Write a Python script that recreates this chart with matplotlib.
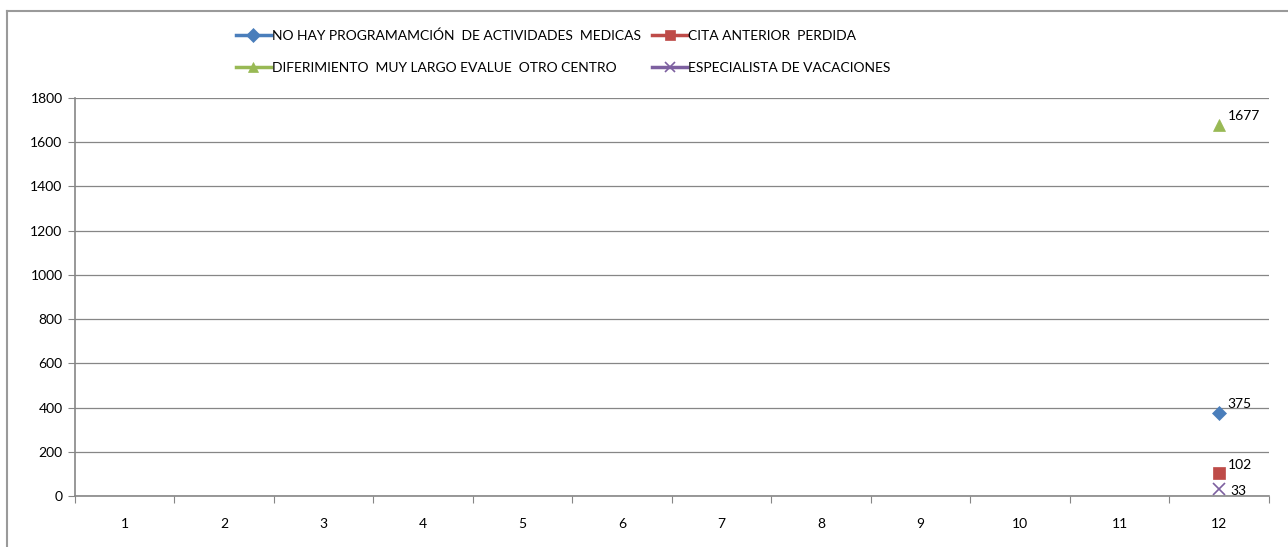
import numpy as np
import matplotlib.pyplot as plt
from matplotlib.lines import Line2D

plt.rcParams['font.family'] = ['Lato', 'DejaVu Sans']

meses = list(range(1, 13))
nan = np.nan
no_hay_prog = [nan] * 11 + [375]
cita_perdida = [nan] * 11 + [102]
diferimiento = [nan] * 11 + [1677]
especialista_vac = [nan] * 11 + [33]

series = [
    ("NO HAY PROGRAMAMCIÓN  DE ACTIVIDADES  MEDICAS", no_hay_prog, '#4A7EBB', 'D', 7),
    ("CITA ANTERIOR  PERDIDA", cita_perdida, '#BE4B48', 's', 8),
    ("DIFERIMIENTO  MUY LARGO EVALUE  OTRO CENTRO", diferimiento, '#98B954', '^', 9),
    ("ESPECIALISTA DE VACACIONES", especialista_vac, '#7D60A0', 'x', 8),
]

fig = plt.figure(figsize=(12.88, 5.47), dpi=100)
ax = fig.add_axes([75/1288, 51/547, (1269-75)/1288, (496-98)/547])

gris = '#868686'
for nombre, vals, col, mk, ms in series:
    ax.plot(meses, vals, color=col, marker=mk, markersize=ms, lw=2.5,
            markeredgewidth=1.2 if mk == 'x' else 0.5, label=nombre)
    for x, v in zip(meses, vals):
        if not np.isnan(v):
            if v > 60:
                ax.annotate(str(v), (x, v), xytext=(6, 2), textcoords='offset points',
                            fontsize=10, ha='left', va='bottom')
            else:
                ax.annotate(str(v), (x, v), xytext=(8, -2), textcoords='offset points',
                            fontsize=10, ha='left', va='center')

ax.set_xlim(0.5, 12.5)
ax.set_ylim(0, 1800)
ax.set_yticks(range(0, 1801, 200))
ax.set_xticks(np.arange(0.5, 12.6, 1))
ax.set_xticklabels([])
ax.set_xticks(meses, minor=True)
ax.set_xticklabels([str(m) for m in meses], minor=True)
ax.tick_params(axis='x', which='minor', length=0, pad=16, labelsize=10)
ax.tick_params(axis='x', which='major', length=5, color=gris, direction='out')
ax.tick_params(axis='y', length=5, color=gris, direction='out', labelsize=10, pad=4)
ax.grid(axis='y', color=gris, lw=0.9)
ax.set_axisbelow(True)
for s in ['top', 'right']:
    ax.spines[s].set_visible(False)
for s in ['left', 'bottom']:
    ax.spines[s].set_color(gris)
    ax.spines[s].set_linewidth(1.2)

# legend: order so rows read like the original
orden = [0, 2, 1, 3]
handles = [Line2D([], [], color=series[i][2], marker=series[i][3], markersize=7, lw=2.5,
                  markeredgewidth=1.2 if series[i][3] == 'x' else 0.5) for i in orden]
labels = [series[i][0] for i in orden]
fig.legend(handles, labels, ncol=2, loc='upper left', bbox_to_anchor=(236/1288, 1 - 29/547),
           frameon=False, fontsize=10, handlelength=2.5, handletextpad=0.1,
           columnspacing=0.8, labelspacing=1.45, borderaxespad=0, borderpad=0)

# chart border
fig.add_artist(Line2D([7/1288, 7/1288], [0, 1 - 11/547], transform=fig.transFigure, color='#9a9a9a', lw=1.5))
fig.add_artist(Line2D([7/1288, 1], [1 - 11/547, 1 - 11/547], transform=fig.transFigure, color='#9a9a9a', lw=1.5))

fig.savefig('out.png', dpi=100)
